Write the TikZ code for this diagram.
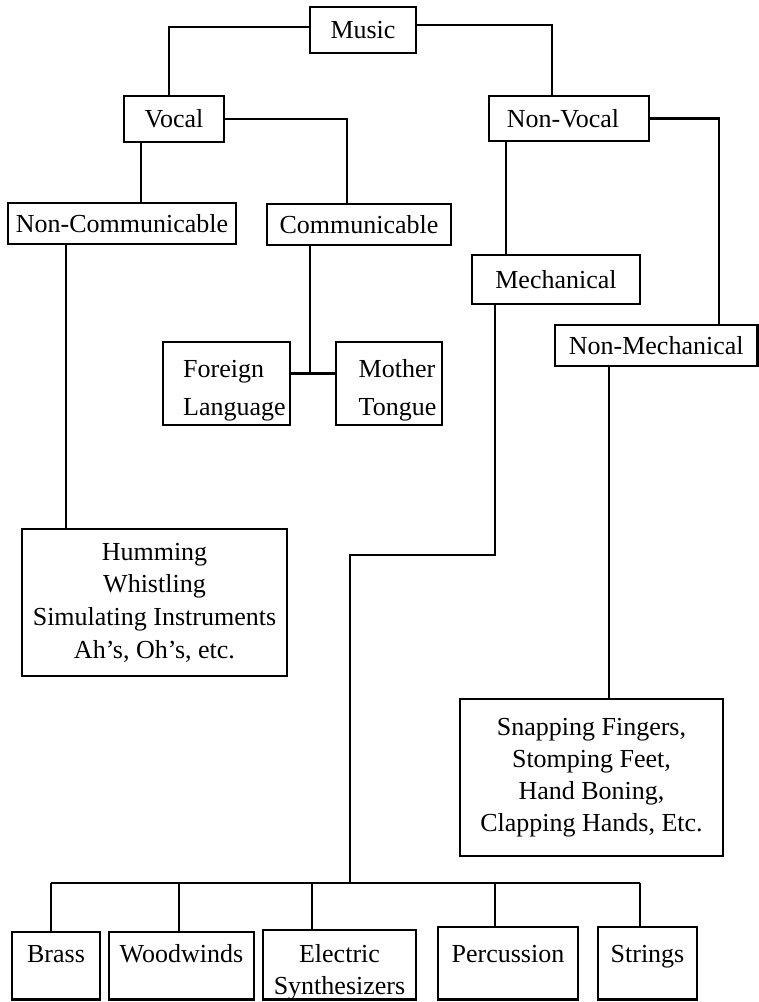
\documentclass[tikz,border=0pt]{standalone}
\usepackage{fontspec}
\setmainfont{Liberation Serif}
\begin{document}
\begin{tikzpicture}[x=1pt,y=1pt,
  box/.style={draw, line width=2.6pt, inner sep=0pt, font=\fontsize{26}{32}\selectfont},
  conn/.style={line width=2.6pt}]
\useasboundingbox[fill=white] (0,0) rectangle (759,-1002);
% nodes
\node[box, minimum width=106pt, minimum height=46pt] (music) at (363,-30) {Music};
\node[box, minimum width=100pt, minimum height=46pt] (vocal) at (174,-119) {Vocal};
\node[box, minimum width=160pt, minimum height=45pt] (nvocal) at (569,-118.5) {\hspace*{-12pt}Non-Vocal};
\node[box, minimum width=228pt, minimum height=41pt] (noncom) at (122,-223.5) {Non-Communicable};
\node[box, minimum width=184pt, minimum height=41pt] (comm) at (359,-224.5) {Communicable};
\node[box, minimum width=168pt, minimum height=49pt] (mech) at (556,-279.5) {Mechanical};
\node[box, minimum width=202.5pt, minimum height=41pt] (nonmech) at (656.25,-345.5) {Non-Mechanical};
\node[box, minimum width=127pt, text height=35pt, text depth=48pt] (foreign) at (226.5,-383.5)
  {\hspace*{16pt}\begin{tabular}[t]{@{}l@{}}Foreign\\[6pt]Language\end{tabular}};
\node[box, minimum width=106pt, text height=35pt, text depth=48pt] (mother) at (389,-383.5)
  {\hspace*{17pt}\begin{tabular}[t]{@{}l@{}}Mother\\[6pt]Tongue\end{tabular}};
\node[box, minimum width=265pt, minimum height=147pt, align=center] (hum) at (154.5,-602.5)
  {Humming\\[0.7pt]Whistling\\[0.7pt]Simulating Instruments\\[0.7pt]Ah’s, Oh’s, etc.};
\node[box, minimum width=263pt, minimum height=157pt, align=center] (snap) at (591.5,-777.5)
  {Snapping Fingers,\\Stomping Feet,\\Hand Boning,\\Clapping Hands, Etc.};
\node[box, minimum width=88pt, text height=30pt, text depth=37.5pt] (brass) at (56,-965.75) {Brass};
\node[box, minimum width=145pt, text height=30pt, text depth=37.5pt] (wood) at (181.5,-965.75) {Woodwinds};
\node[box, minimum width=153pt, text height=32pt, text depth=37.5pt] (elec) at (339.5,-964.75)
  {\begin{tabular}[t]{@{}c@{}}Electric\\Synthesizers\end{tabular}};
\node[box, minimum width=140pt, text height=35pt, text depth=37.5pt] (perc) at (508,-963.25) {Percussion};
\node[box, minimum width=99pt, text height=35pt, text depth=37.5pt] (str) at (647.5,-963.25) {Strings};
% helper coordinates
\coordinate (mL) at ([yshift=3pt]music.west);
\coordinate (vT) at ([xshift=-5pt]vocal.north);
\coordinate (mR) at ([yshift=5pt]music.east);
\coordinate (nvT) at ([xshift=-17pt]nvocal.north);
\coordinate (vB) at ([xshift=-33pt]vocal.south);
\coordinate (cT) at ([xshift=-12pt]comm.north);
\coordinate (ncB) at ([xshift=-56pt]noncom.south);
\coordinate (cB) at ([xshift=-49pt]comm.south);
\coordinate (fE) at ([yshift=10pt]foreign.east);
\coordinate (mW) at ([yshift=10pt]mother.west);
\coordinate (nvB) at ([xshift=-63pt]nvocal.south);
\coordinate (nmT) at ([xshift=62.75pt]nonmech.north);
\coordinate (mB) at ([xshift=-61pt]mech.south);
\coordinate (jog) at (350,-555);
\coordinate (bus) at (350,-883);
\coordinate (nmB) at ([xshift=-47.25pt]nonmech.south);
\coordinate (sBr) at ([xshift=-5pt]brass.north);
\coordinate (sWw) at ([xshift=-2.5pt]wood.north);
\coordinate (sEl) at ([xshift=-27.5pt]elec.north);
\coordinate (sPe) at ([xshift=-13pt]perc.north);
\coordinate (sSt) at ([xshift=-7.5pt]str.north);
% connectors
\draw[conn] (mL) -| (vT);
\draw[conn] (mR) -| (nvT);
\draw[conn] (vB) -- (vB |- noncom.north);
\draw[conn] (vocal.east) -| (cT);
\draw[conn] (ncB) -- (ncB |- hum.north);
\draw[conn] (fE) -- (mW);
\draw[conn] (cB) -- (cB |- fE);
\draw[conn] (nvB) -- (nvB |- mech.north);
\draw[conn] (nvocal.east) -| (nmT);
\draw[conn] (mB) |- (jog) -- (bus);
\draw[conn] (nmB) -- (nmB |- snap.north);
\draw[conn] (sBr |- bus) -- (sSt |- bus);
\foreach \s in {sBr,sWw,sEl,sPe,sSt} \draw[conn] (\s) -- (\s |- bus);
\end{tikzpicture}
\end{document}
